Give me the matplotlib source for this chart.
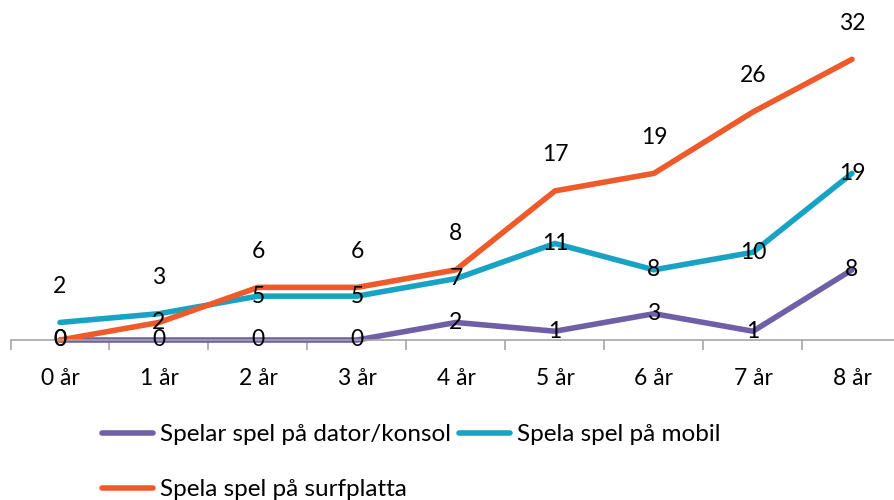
import matplotlib
matplotlib.use('Agg')
import matplotlib.pyplot as plt
import numpy as np

# Data
ages = ['0 år', '1 år', '2 år', '3 år', '4 år', '5 år', '6 år', '7 år', '8 år']
dator = [0, 0, 0, 0, 2, 1, 3, 1, 8]
mobil = [2, 3, 5, 5, 7, 11, 8, 10, 19]
surf = [0, 2, 6, 6, 8, 17, 19, 26, 32]

names = ['Spelar spel på dator/konsol', 'Spela spel på mobil',
         'Spela spel på surfplatta']
colours = ['#6F5FA7', '#18A2C4', '#EE5A2A']

plt.rcParams['font.family'] = ['Lato', 'DejaVu Sans']

W, H = 894, 500
fig = plt.figure(figsize=(W / 100, H / 100), dpi=100)
ax = fig.add_axes([10.5 / W, 160 / H, 891 / W, 307 / H])

x = np.arange(len(ages))
series = [dator, mobil, surf]
lines = []
for vals, col, name in zip(series, colours, names):
    ln, = ax.plot(x, vals, color=col, lw=4, solid_capstyle='round',
                  solid_joinstyle='miter', label=name, clip_on=False)
    lines.append(ln)

# data labels: largest value of each age sits above its point,
# the others are centred on their point
for i in x:
    vals = [s[i] for s in series]
    top = int(np.argmax(vals))
    for k, v in enumerate(vals):
        dy = 26 if k == top else 0
        ax.annotate(str(v), (i, v), xytext=(0, dy),
                    textcoords='offset points', ha='center',
                    va='center', fontsize=16.5, color='black',
                    annotation_clip=False)

ax.set_xlim(-0.5, len(ages) - 0.5)
ax.set_ylim(0, 35)
ax.set_yticks([])
for sp in ('top', 'right', 'left'):
    ax.spines[sp].set_visible(False)
ax.spines['bottom'].set_color('#A6A6A6')
ax.spines['bottom'].set_linewidth(1.2)
ax.set_xticks(x)
ax.set_xticklabels(ages, fontsize=16.5)
ax.tick_params(axis='x', which='major', length=0, pad=20)
ax.set_xticks(np.arange(len(ages) + 1) - 0.5, minor=True)
ax.tick_params(axis='x', which='minor', length=7, color='#A6A6A6',
               width=1.2)

handles = [lines[0], lines[2], lines[1]]
fig.legend(handles, [h.get_label() for h in handles], ncol=2,
           loc='upper left', bbox_to_anchor=(102 / W, 1 - 424 / H),
           frameon=False, fontsize=17.5, handlelength=2.1,
           handletextpad=0.29, columnspacing=0.33, labelspacing=1.4,
           borderpad=0, borderaxespad=0)

fig.savefig('out.png', dpi=100)
